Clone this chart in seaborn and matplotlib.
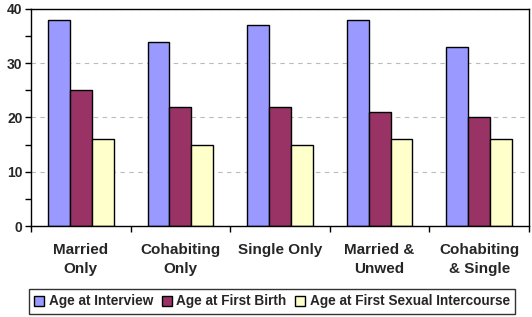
import pandas as pd
import matplotlib.pyplot as plt
import seaborn as sns
from matplotlib.ticker import MultipleLocator, FixedLocator

categories = ['Married\nOnly', 'Cohabiting\nOnly', 'Single Only', 'Married &\nUnwed', 'Cohabiting\n& Single']
series = ['Age at Interview', 'Age at First Birth', 'Age at First Sexual Intercourse']
age_interview = [38, 34, 37, 38, 33]
age_first_birth = [25, 22, 22, 21, 20]
age_first_sex = [16, 15, 15, 16, 16]
colors = ['#9999FF', '#993366', '#FFFFCC']


def main():
    sns.set_style('white')
    plt.rcParams['font.family'] = ['Liberation Sans', 'DejaVu Sans']
    plt.rcParams['font.weight'] = 'bold'

    rows = []
    for name, vals in zip(series, [age_interview, age_first_birth, age_first_sex]):
        for cat, v in zip(categories, vals):
            rows.append({'category': cat, 'series': name, 'age': v})
    df = pd.DataFrame(rows)

    fig = plt.figure(figsize=(5.32, 3.17), dpi=100)
    ax = fig.add_axes([31 / 532, 1 - 226 / 317, 498 / 532, 217 / 317])

    sns.barplot(data=df, x='category', y='age', hue='series', palette=colors,
                width=0.66, edgecolor='black', linewidth=1.0, saturation=1,
                ax=ax, legend=True)

    ax.set_xlim(-0.5, 4.5)
    ax.set_ylim(0, 40)
    ax.set_xlabel('')
    ax.set_ylabel('')

    # y axis ticks
    ax.yaxis.set_major_locator(MultipleLocator(10))
    ax.yaxis.set_minor_locator(MultipleLocator(5))
    ax.tick_params(axis='y', which='both', direction='out', length=4, width=1,
                   color='black', left=True, labelsize=10, pad=2)
    ax.grid(axis='y', which='major', linestyle=(0, (4, 4)), color='#BBBBBB', linewidth=0.8)
    ax.set_axisbelow(True)

    # x ticks at group boundaries, labels at centres
    ax.xaxis.set_major_locator(FixedLocator([-0.5, 0.5, 1.5, 2.5, 3.5, 4.5]))
    ax.xaxis.set_major_formatter(plt.NullFormatter())
    ax.xaxis.set_minor_locator(FixedLocator(range(len(categories))))
    ax.set_xticklabels(categories, minor=True)
    ax.tick_params(axis='x', which='major', direction='out', length=4, width=1,
                   color='black', bottom=True)
    ax.tick_params(axis='x', which='minor', length=0, labelsize=11, pad=12)
    for lbl in ax.get_xticklabels(minor=True):
        lbl.set_linespacing(1.5)

    for s in ax.spines.values():
        s.set_color('black')
        s.set_linewidth(1.0)
        s.set_visible(True)

    handles, labels = ax.get_legend_handles_labels()
    ax.get_legend().remove()
    leg = fig.legend(handles, labels, loc='center', ncol=3,
                     bbox_to_anchor=(272 / 532, 1 - 301.5 / 317),
                     frameon=True, fancybox=False, edgecolor='black',
                     fontsize=9.8, handlelength=0.75, handleheight=0.75,
                     handletextpad=0.35, columnspacing=0.6, borderpad=0.4)
    leg.get_frame().set_linewidth(1.0)

    fig.savefig('out.png', dpi=100)


if __name__ == '__main__':
    main()
